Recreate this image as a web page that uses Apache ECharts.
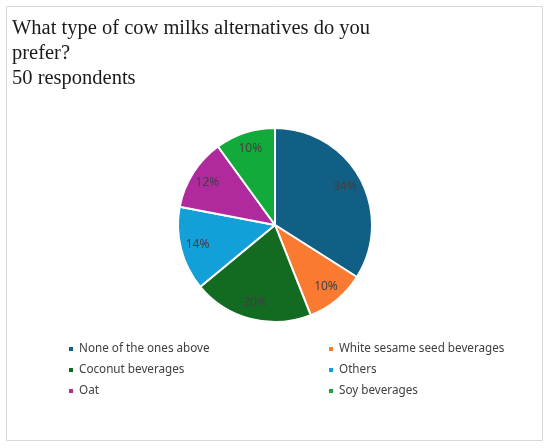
<!DOCTYPE html>
<html>
<head>
<meta charset="utf-8">
<script src="https://cdn.jsdelivr.net/npm/echarts@6/dist/echarts.min.js"></script>
<style>
  html, body { margin: 0; padding: 0; background: #fff; }
  #chart { width: 550px; height: 448px; }
</style>
</head>
<body>
<div id="chart"></div>
<script>
// survey answers, percent of 50 respondents
const categories = [
  'None of the ones above',
  'White sesame seed beverages',
  'Coconut beverages',
  'Others',
  'Oat',
  'Soy beverages'
]
const shares = [34, 10, 20, 14, 12, 10]
const colors = ['#125f86', '#fb7a31', '#136b22', '#139fd8', '#b02a9e', '#12aa3a']

const leftCol = [categories[0], categories[2], categories[4]]
const rightCol = [categories[1], categories[3], categories[5]]

const pieData = categories.map((name, i) => ({
  name: name,
  value: shares[i],
  itemStyle: {color: colors[i]}
}))

const center = [275, 225]

const legendBase = {
  orient: 'vertical',
  top: 342,
  padding: 0,
  icon: 'rect',
  itemWidth: 6,
  itemHeight: 6,
  itemGap: 7,
  textStyle: {fontFamily: 'Noto Sans', fontSize: 11.7, color: '#404040', lineHeight: 14},
  selectedMode: false
}

const chart = echarts.init(document.getElementById('chart'), null, {renderer: 'canvas'})
chart.setOption({
  animation: false,
  backgroundColor: '#fff',
  graphic: [{
    type: 'rect',
    shape: {x: 6.5, y: 6.5, width: 536, height: 434},
    style: {fill: 'none', stroke: '#d9d9d9', lineWidth: 1}
  }],
  title: {
    text: 'What type of cow milks alternatives do you\nprefer?\n50 respondents',
    left: 12,
    top: 16,
    padding: 0,
    textStyle: {
      fontFamily: 'Liberation Serif',
      fontSize: 20.5,
      fontWeight: 'normal',
      color: '#1a1a1a',
      lineHeight: 25
    }
  },
  legend: [
    Object.assign({}, legendBase, {left: 67, data: leftCol}),
    Object.assign({}, legendBase, {left: 327, data: rightCol})
  ],
  series: [
    {
      type: 'pie',
      center: center,
      radius: [0, 97],
      startAngle: 90,
      clockwise: true,
      data: pieData,
      itemStyle: {borderColor: '#fff', borderWidth: 2},
      label: {show: false},
      labelLine: {show: false},
      silent: true
    },
    {
      // transparent ring only used to place the percent labels
      type: 'pie',
      center: center,
      radius: [58, 96],
      startAngle: 90,
      clockwise: true,
      data: categories.map((name, i) => ({name: name, value: shares[i]})),
      itemStyle: {color: 'rgba(0,0,0,0)', borderWidth: 0},
      label: {
        show: true,
        position: 'inside',
        formatter: p => p.value + '%',
        fontFamily: 'Noto Sans',
        fontSize: 12,
        color: '#404040'
      },
      labelLine: {show: false},
      silent: true,
      legendHoverLink: false
    }
  ]
})
</script>
</body>
</html>
